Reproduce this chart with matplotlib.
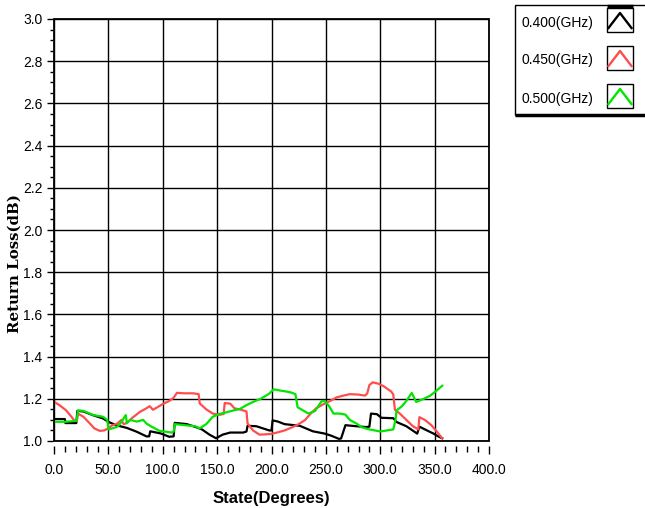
import matplotlib
matplotlib.use('Agg')
import matplotlib.pyplot as plt
from matplotlib.ticker import MultipleLocator, FormatStrFormatter
from matplotlib.patches import Rectangle

# ---------------- data ----------------
freq_labels = ['0.400(GHz)', '0.450(GHz)', '0.500(GHz)']
line_colors = ['#000000', '#ff4d4d', '#00e600']

state_400 = [0, 10, 10.5, 20.5, 21.5, 27, 36, 45, 50, 57, 67, 76, 85, 87.5, 88.5, 98, 106, 110,
             111, 122, 131, 136, 143, 149, 155, 162, 174, 177, 178, 186, 198, 200, 201, 206, 212,
             226, 238, 249, 255, 262, 264, 268, 278, 287, 290, 291.5, 297, 301, 312, 315, 324,
             334, 336, 343, 349, 354, 357]
rl_400 = [1.104, 1.104, 1.085, 1.085, 1.143, 1.14, 1.122, 1.107, 1.091, 1.075, 1.062, 1.044,
          1.022, 1.022, 1.046, 1.036, 1.02, 1.022, 1.086, 1.08, 1.065, 1.055, 1.03, 1.013, 1.03,
          1.04, 1.04, 1.045, 1.072, 1.07, 1.05, 1.05, 1.098, 1.092, 1.08, 1.072, 1.046, 1.035,
          1.025, 1.01, 1.012, 1.075, 1.07, 1.066, 1.068, 1.13, 1.127, 1.11, 1.108, 1.09, 1.07,
          1.035, 1.068, 1.05, 1.035, 1.02, 1.013]

state_450 = [0, 5, 11, 16, 19, 21, 22, 27, 33, 37, 42, 46, 50, 53, 58, 62, 64, 67, 72, 79, 84,
             88, 91, 95, 100, 106, 110, 113, 120, 128, 133, 134, 140, 146, 152, 156, 157, 162,
             166, 172, 177, 178, 183, 189, 199, 205, 212, 219, 225, 231, 236, 241, 248, 254,
             260, 266, 272, 280, 286, 288, 290, 293, 298, 303, 310, 312, 313.5, 318, 324, 330,
             335, 336, 341, 347, 352, 357]
rl_450 = [1.186, 1.17, 1.146, 1.115, 1.095, 1.095, 1.13, 1.115, 1.083, 1.06, 1.048, 1.05, 1.06,
          1.073, 1.082, 1.1, 1.08, 1.085, 1.11, 1.138, 1.152, 1.165, 1.148, 1.16, 1.175, 1.19,
          1.205, 1.228, 1.226, 1.226, 1.222, 1.178, 1.15, 1.13, 1.124, 1.128, 1.18, 1.177,
          1.155, 1.148, 1.14, 1.083, 1.05, 1.03, 1.033, 1.04, 1.05, 1.065, 1.08, 1.1, 1.13,
          1.155, 1.175, 1.19, 1.207, 1.215, 1.222, 1.22, 1.215, 1.225, 1.265, 1.278, 1.272,
          1.26, 1.235, 1.22, 1.148, 1.13, 1.1, 1.07, 1.055, 1.113, 1.1, 1.075, 1.045, 1.012]

state_500 = [0, 10, 20, 21, 22, 27, 36, 45, 49, 50, 55, 58, 61, 66, 67, 70, 76, 82, 85, 89, 97,
             103, 108, 110, 111, 120, 130, 134, 140, 146, 152, 158, 165, 171, 177, 183, 190,
             195, 198, 202, 207, 213, 218, 222, 224, 229, 234, 240, 246, 249, 253, 257, 263,
             268, 272, 278, 283, 290, 295, 300, 306, 312, 314, 315, 320, 324, 329, 333, 340,
             346, 352, 357]
rl_500 = [1.091, 1.091, 1.095, 1.1, 1.145, 1.143, 1.123, 1.115, 1.1, 1.055, 1.062, 1.067, 1.083,
          1.123, 1.085, 1.1, 1.092, 1.1, 1.083, 1.07, 1.048, 1.044, 1.04, 1.045, 1.08, 1.075,
          1.07, 1.06, 1.08, 1.115, 1.128, 1.135, 1.145, 1.152, 1.17, 1.185, 1.2, 1.215, 1.225,
          1.245, 1.24, 1.235, 1.23, 1.222, 1.16, 1.145, 1.13, 1.142, 1.188, 1.19, 1.165, 1.13,
          1.13, 1.125, 1.1, 1.083, 1.065, 1.055, 1.05, 1.045, 1.05, 1.055, 1.1, 1.145, 1.165,
          1.19, 1.228, 1.185, 1.2, 1.215, 1.24, 1.262]

series_states = [state_400, state_450, state_500]
series_rl = [rl_400, rl_450, rl_500]

x_label = 'State(Degrees)'
y_label = 'Return Loss(dB)'

# ---------------- figure ----------------
W, H = 645, 508
narrow = ['Liberation Sans Narrow', 'Liberation Sans', 'DejaVu Sans']
fig = plt.figure(figsize=(W / 100, H / 100), dpi=100)
fig.patch.set_facecolor('white')

ax = fig.add_axes([54 / W, 1 - 441 / H, (489 - 54) / W, (441 - 19) / H])
for xs, ys, c in zip(series_states, series_rl, line_colors):
    ax.plot(xs, ys, color=c, lw=1.6, zorder=4)

ax.set_xlim(0, 400)
ax.set_ylim(1.0, 3.0)
ax.xaxis.set_major_locator(MultipleLocator(50))
ax.xaxis.set_minor_locator(MultipleLocator(10))
ax.yaxis.set_major_locator(MultipleLocator(0.2))
ax.yaxis.set_minor_locator(MultipleLocator(0.05))
ax.xaxis.set_major_formatter(FormatStrFormatter('%.1f'))
ax.yaxis.set_major_formatter(FormatStrFormatter('%.1f'))
ax.grid(True, which='major', color='black', lw=1.0, zorder=1)
ax.set_axisbelow(True)

for s in ax.spines.values():
    s.set_color('none')
ax.spines['bottom'].set_position(('outward', 3.5))
ax.spines['left'].set_position(('outward', 0.8))

ax.tick_params(axis='x', which='major', direction='out', length=6, width=1, pad=6,
               labelsize=10, colors='black')
ax.tick_params(axis='x', which='minor', direction='out', length=4, width=1)
ax.tick_params(axis='y', which='major', direction='out', length=4.5, width=1, pad=3,
               labelsize=10)
ax.tick_params(axis='y', which='minor', direction='out', length=2.5, width=1)
for lab in ax.get_xticklabels() + ax.get_yticklabels():
    lab.set_family(narrow)

ax.add_patch(Rectangle((0, 0), 1, 1, transform=ax.transAxes, fill=False, ec='black',
                       lw=1.3, clip_on=False, zorder=5))

fig.text(271 / W, 1 - 498 / H, x_label, ha='center', va='center', fontsize=12,
         fontweight='bold', family=narrow)
fig.text(15 / W, 1 - 264 / H, y_label, ha='center', va='center', rotation=90,
         fontsize=10.8, fontweight='bold', family=['DejaVu Serif'])

# ---------------- legend (drawn in pixel space) ----------------
lax = fig.add_axes([0, 0, 1, 1], facecolor='none')
lax.set_xlim(0, W)
lax.set_ylim(H, 0)
lax.axis('off')
lax.add_patch(Rectangle((515, 5), 135, 110, fill=False, ec='black', lw=1.0))
lax.plot([515, 645], [114.5, 114.5], color='black', lw=2.5, solid_capstyle='butt')
lax.plot([607, 633], [6, 6], color='black', lw=2.5, solid_capstyle='butt')
row_text_y = [23, 60, 99]
row_box_top = [8, 46, 84]
for i, (lab, c) in enumerate(zip(freq_labels, line_colors)):
    lax.text(593, row_text_y[i], lab, ha='right', va='center', fontsize=10, family=narrow)
    top = row_box_top[i]
    lax.add_patch(Rectangle((607, top), 26, 24, fill=False, ec='black', lw=1.0))
    lax.plot([608.5, 620, 631.5], [top + 20, top + 5, top + 20], color=c, lw=1.7)

fig.savefig('out.png', dpi=100)
